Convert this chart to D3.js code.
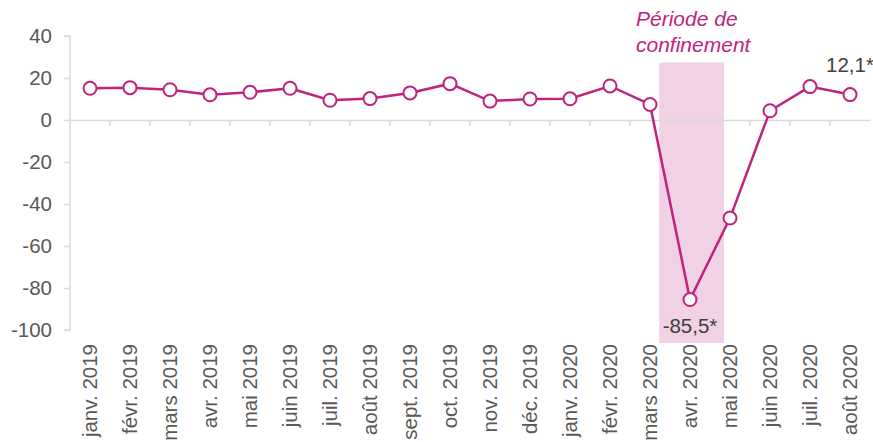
<!DOCTYPE html>
<html>
<head>
<meta charset="utf-8">
<script src="https://cdn.jsdelivr.net/npm/d3@7"></script>
<style>
  body { margin: 0; background: #fff; }
</style>
</head>
<body>
<svg id="chart"></svg>
<script>
// month labels and values
const months = ["janv. 2019", "févr. 2019", "mars 2019", "avr. 2019", "mai 2019", "juin 2019",
  "juil. 2019", "août 2019", "sept. 2019", "oct. 2019", "nov. 2019", "déc. 2019",
  "janv. 2020", "févr. 2020", "mars 2020", "avr. 2020", "mai 2020", "juin 2020",
  "juil. 2020", "août 2020"];
const values = [15.1, 15.4, 14.4, 12.0, 13.2, 15.1, 9.4, 10.2, 12.9, 17.3, 9.0, 10.0,
  10.1, 16.2, 7.4, -85.5, -46.7, 4.4, 15.9, 12.1];
const yTicks = [40, 20, 0, -20, -40, -60, -80, -100];
const labelled = [{ month: "avr. 2020", text: "-85,5*" }, { month: "août 2020", text: "12,1*" }];
const lockdown = ["mars 2020", "mai 2020"];

const width = 873, height = 442;
const margin = { top: 36, right: 3, bottom: 112, left: 70 };
const color = "#c0237d";
const font = "'Liberation Sans', Arial, sans-serif";

const svg = d3.select("#chart").attr("width", width).attr("height", height);

const x = d3.scaleBand().domain(months).range([margin.left, width - margin.right]);
const y = d3.scaleLinear().domain([-100, 40]).range([height - margin.bottom, margin.top]);
const cx = m => x(m) + x.bandwidth() / 2;

// shaded lockdown period
const x0 = cx(lockdown[0]) + x.bandwidth() * 0.23;
const x1 = cx(lockdown[1]) - x.bandwidth() * 0.15;
svg.append("rect")
  .attr("x", x0)
  .attr("y", 62.5)
  .attr("width", x1 - x0)
  .attr("height", 343 - 62.5)
  .attr("fill", "#f0d2e4");

// y axis (plain hyphen for negatives, like the original)
const yAxis = svg.append("g")
  .attr("transform", `translate(${margin.left},0)`)
  .call(d3.axisLeft(y).tickValues(yTicks).tickSize(6).tickPadding(12).tickFormat(d => String(d)));
yAxis.select(".domain").attr("stroke", "#d9d9d9").attr("stroke-width", 1.5)
  .attr("d", `M-6,${y(40)}H0V${y(-100)}H-6`);
yAxis.selectAll(".tick line").attr("stroke", "#d9d9d9").attr("stroke-width", 1.5);
yAxis.selectAll(".tick text")
  .attr("fill", "#595959")
  .attr("font-size", 20.5)
  .attr("font-family", font);

// zero line with category ticks
const xAxis = svg.append("g")
  .attr("transform", `translate(0,${y(0)})`)
  .call(d3.axisBottom(x).tickSize(0).tickFormat(""));
xAxis.select(".domain").attr("stroke", "#d9d9d9").attr("stroke-width", 1.5);
xAxis.selectAll(".tick").remove();
xAxis.selectAll(".sep")
  .data(months.slice(1))
  .join("line")
  .attr("x1", d => x(d)).attr("x2", d => x(d))
  .attr("y1", 0).attr("y2", 6)
  .attr("stroke", "#d9d9d9").attr("stroke-width", 1.5);

// month labels, rotated
svg.append("g").selectAll("text")
  .data(months)
  .join("text")
  .attr("transform", d => `translate(${cx(d) + 7},344) rotate(-90)`)
  .attr("text-anchor", "end")
  .attr("fill", "#595959")
  .attr("font-size", 20.5)
  .attr("font-family", font)
  .text(d => d);

// line
svg.append("path")
  .datum(months)
  .attr("fill", "none")
  .attr("stroke", color)
  .attr("stroke-width", 2.5)
  .attr("d", d3.line().x(d => cx(d)).y((d, i) => y(values[i])));

svg.append("g").selectAll("circle")
  .data(months)
  .join("circle")
  .attr("cx", d => cx(d))
  .attr("cy", (d, i) => y(values[i]))
  .attr("r", 6.5)
  .attr("fill", "#fff")
  .attr("stroke", color)
  .attr("stroke-width", 2);

// value labels
svg.append("g").selectAll("text")
  .data(labelled)
  .join("text")
  .attr("x", d => cx(d.month))
  .attr("y", d => {
    const v = values[months.indexOf(d.month)];
    return y(v) + (v < 0 ? 33 : -22.5);
  })
  .attr("text-anchor", "middle")
  .attr("fill", "#404040")
  .attr("font-size", 20.5)
  .attr("font-family", font)
  .text(d => d.text);

// annotation
const ann = svg.append("text")
  .attr("fill", color)
  .attr("font-style", "italic")
  .attr("font-size", 21)
  .attr("font-family", font);
ann.append("tspan").attr("x", 636).attr("y", 26).text("Période de");
ann.append("tspan").attr("x", 636).attr("y", 52).text("confinement");
</script>
</body>
</html>
